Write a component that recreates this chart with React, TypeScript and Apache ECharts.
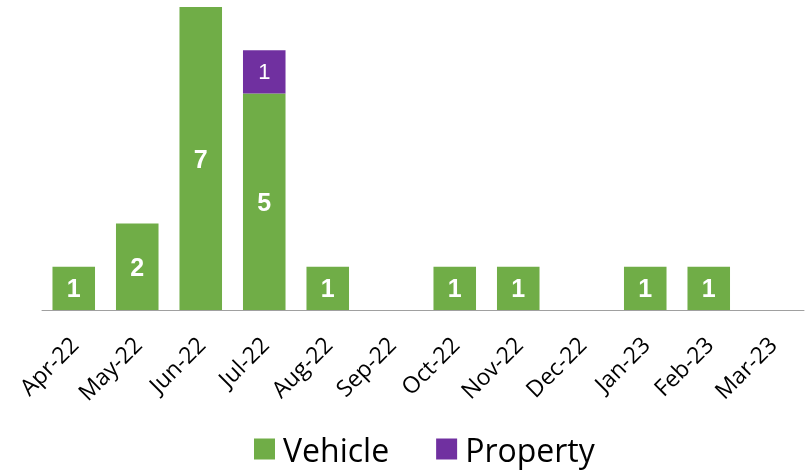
import React, { useEffect, useRef } from "react";
import * as echarts from "echarts";

const categories = ["Apr-22", "May-22", "Jun-22", "Jul-22", "Aug-22", "Sep-22", "Oct-22", "Nov-22", "Dec-22", "Jan-23", "Feb-23", "Mar-23"];
const vehicle = [1, 2, 7, 5, 1, null, 1, 1, null, 1, 1, null];
const property = [null, null, null, 1, null, null, null, null, null, null, null, null];

export default function App() {
  const ref = useRef<HTMLDivElement>(null);
  useEffect(() => {
    if (!ref.current) return;
    const chart = echarts.init(ref.current, undefined, { renderer: "svg" });
    chart.setOption({
      animation: false,
      grid: { left: 42, right: 4, top: 7, bottom: 161, containLabel: false },
      legend: {
        left: 254,
        top: 432,
        padding: 0,
        itemWidth: 21,
        itemHeight: 21,
        itemGap: 47,
        icon: "rect",
        textStyle: { fontFamily: "Open Sans", fontSize: 32, lineHeight: 34, color: "#000", padding: [0, 0, 0, 3] },
        data: ["Vehicle", "Property"],
      },
      xAxis: {
        type: "category",
        data: categories,
        axisLine: { lineStyle: { color: "#A0A0A0", width: 1 } },
        axisTick: { show: false },
        axisLabel: {
          rotate: 45,
          interval: 0,
          margin: 30,
          padding: [16, 0, 0, 0],
          fontFamily: "Open Sans",
          fontSize: 23,
          color: "#000",
        },
      },
      yAxis: { type: "value", min: 0, max: 7, show: false, splitLine: { show: false } },
      series: [
        {
          name: "Vehicle",
          type: "bar",
          stack: "a",
          barWidth: "67%",
          data: vehicle,
          itemStyle: { color: "#70AD47" },
          label: {
            show: true,
            position: "inside",
            color: "#fff",
            fontFamily: "Liberation Sans",
            fontWeight: "bold",
            fontSize: 25,
          },
        },
        {
          name: "Property",
          type: "bar",
          stack: "a",
          data: property,
          itemStyle: { color: "#7030A0" },
          label: {
            show: true,
            position: "inside",
            color: "#fff",
            fontFamily: "Liberation Sans",
            fontSize: 22,
          },
        },
      ],
    });
    return () => chart.dispose();
  }, []);
  return <div ref={ref} style={{ position: "fixed", left: 0, top: 0, width: 808, height: 471 }} />;
}
